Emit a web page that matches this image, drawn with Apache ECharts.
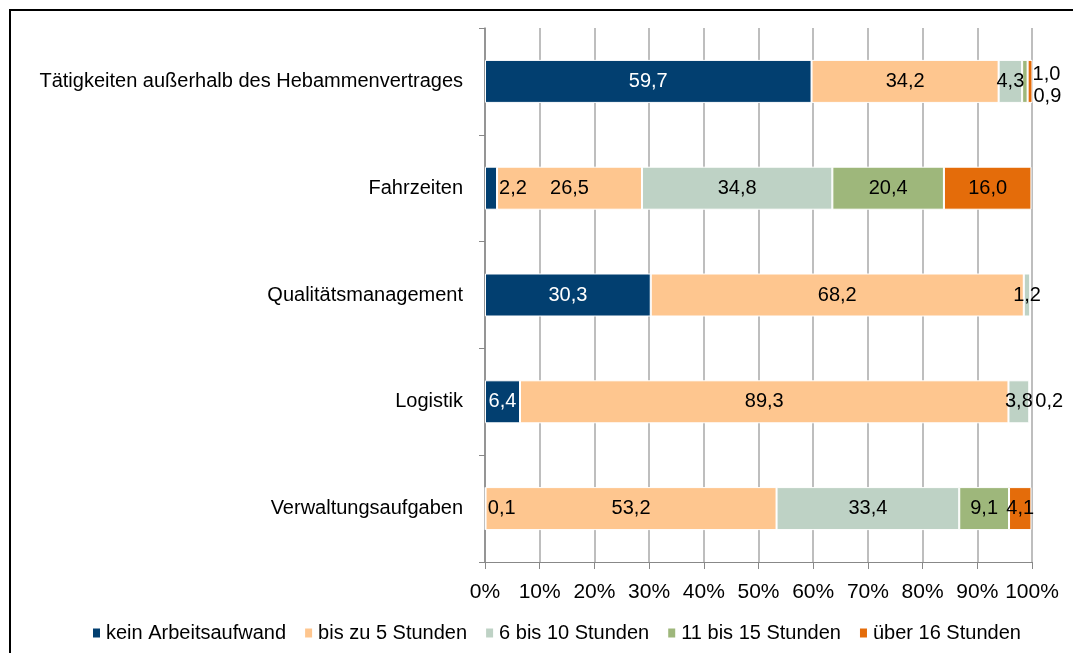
<!DOCTYPE html>
<html>
<head>
<meta charset="utf-8">
<script src="https://cdn.jsdelivr.net/npm/echarts@6/dist/echarts.min.js"></script>
<style>
html,body{margin:0;padding:0;background:#fff;overflow:hidden;}
#frame{position:absolute;left:9px;top:9px;width:2000px;height:2000px;border-left:2px solid #000;border-top:2px solid #000;pointer-events:none;}
#chart{position:absolute;left:0;top:0;width:1073px;height:653px;}
</style>
</head>
<body>
<div id="frame"></div>
<div id="chart"></div>
<script>
const categories = ['Tätigkeiten außerhalb des Hebammenvertrages', 'Fahrzeiten', 'Qualitätsmanagement', 'Logistik', 'Verwaltungsaufgaben'];
const seriesNames = ['kein Arbeitsaufwand', 'bis zu 5 Stunden', '6 bis 10 Stunden', '11 bis 15 Stunden', 'über 16 Stunden'];
const keinArbeitsaufwand = [59.7, 2.2, 30.3, 6.4, 0.1];
const bisZu5 = [34.2, 26.5, 68.2, 89.3, 53.2];
const bis10 = [4.3, 34.8, 1.2, 3.8, 33.4];
const bis15 = [1.0, 20.4, 0, 0.2, 9.1];
const ueber16 = [0.9, 16.0, 0, 0, 4.1];
const xTicks = [0, 10, 20, 30, 40, 50, 60, 70, 80, 90, 100];

const colors = ['#023F70', '#FEC68F', '#BED2C5', '#9EB77B', '#E46C0A'];
const FONT = "'Liberation Sans', Arial, sans-serif";
const fmt = v => v.toFixed(1).replace('.', ',');

// special label placements: seriesIndex-categoryIndex -> label options
const special = {
  '0-1': {position: 'right', distance: 2, color: '#000'},
  '0-4': {position: 'right', distance: 2, color: '#000'},
  '3-0': {position: 'right', distance: 5, offset: [0, -7]},
  '4-0': {position: 'right', distance: 1, offset: [0, 15]},
  '3-3': {position: 'right', distance: 5}
};

const raw = [keinArbeitsaufwand, bisZu5, bis10, bis15, ueber16];

const series = raw.map((arr, si) => ({
  name: seriesNames[si],
  type: 'bar',
  stack: 'total',
  barWidth: 43,
  itemStyle: {color: colors[si], borderColor: '#fff', borderWidth: 1},
  label: {
    show: true,
    position: 'inside',
    fontFamily: FONT,
    fontSize: 20,
    color: si === 0 ? '#fff' : '#000',
    formatter: p => (p.value ? fmt(p.value) : '')
  },
  data: arr.map((v, ci) => {
    const key = si + '-' + ci;
    if (!v) return {value: 0, label: {show: false}};
    if (special[key]) return {value: v, label: special[key]};
    return v;
  })
}));

const chart = echarts.init(document.getElementById('chart'), null, {renderer: 'canvas'});
chart.setOption({
  animation: false,
  backgroundColor: 'transparent',
  grid: {left: 485, right: 41, top: 28, bottom: 91, containLabel: false},
  legend: {
    data: seriesNames,
    bottom: 5,
    left: 86,
    itemWidth: 9,
    itemHeight: 11,
    itemGap: 17,
    icon: 'rect',
    textStyle: {fontFamily: FONT, fontSize: 20, color: '#000'}
  },
  xAxis: {
    type: 'value',
    min: 0,
    max: 100,
    interval: 10,
    axisLine: {show: true, lineStyle: {color: '#888', width: 1}},
    axisTick: {show: true, length: 7, lineStyle: {color: '#888'}},
    splitLine: {show: true, lineStyle: {color: '#A8A8A8', width: 1.5}},
    axisLabel: {
      margin: 20,
      fontFamily: FONT,
      fontSize: 21,
      color: '#000',
      formatter: v => (xTicks.indexOf(v) >= 0 ? v + '%' : '')
    }
  },
  yAxis: {
    type: 'category',
    data: categories,
    inverse: true,
    axisLine: {show: true, lineStyle: {color: '#888', width: 1.5}},
    axisTick: {show: true, length: 6, lineStyle: {color: '#888'}},
    axisLabel: {margin: 22, fontFamily: FONT, fontSize: 20, color: '#000'}
  },
  series: series
});
</script>
</body>
</html>
